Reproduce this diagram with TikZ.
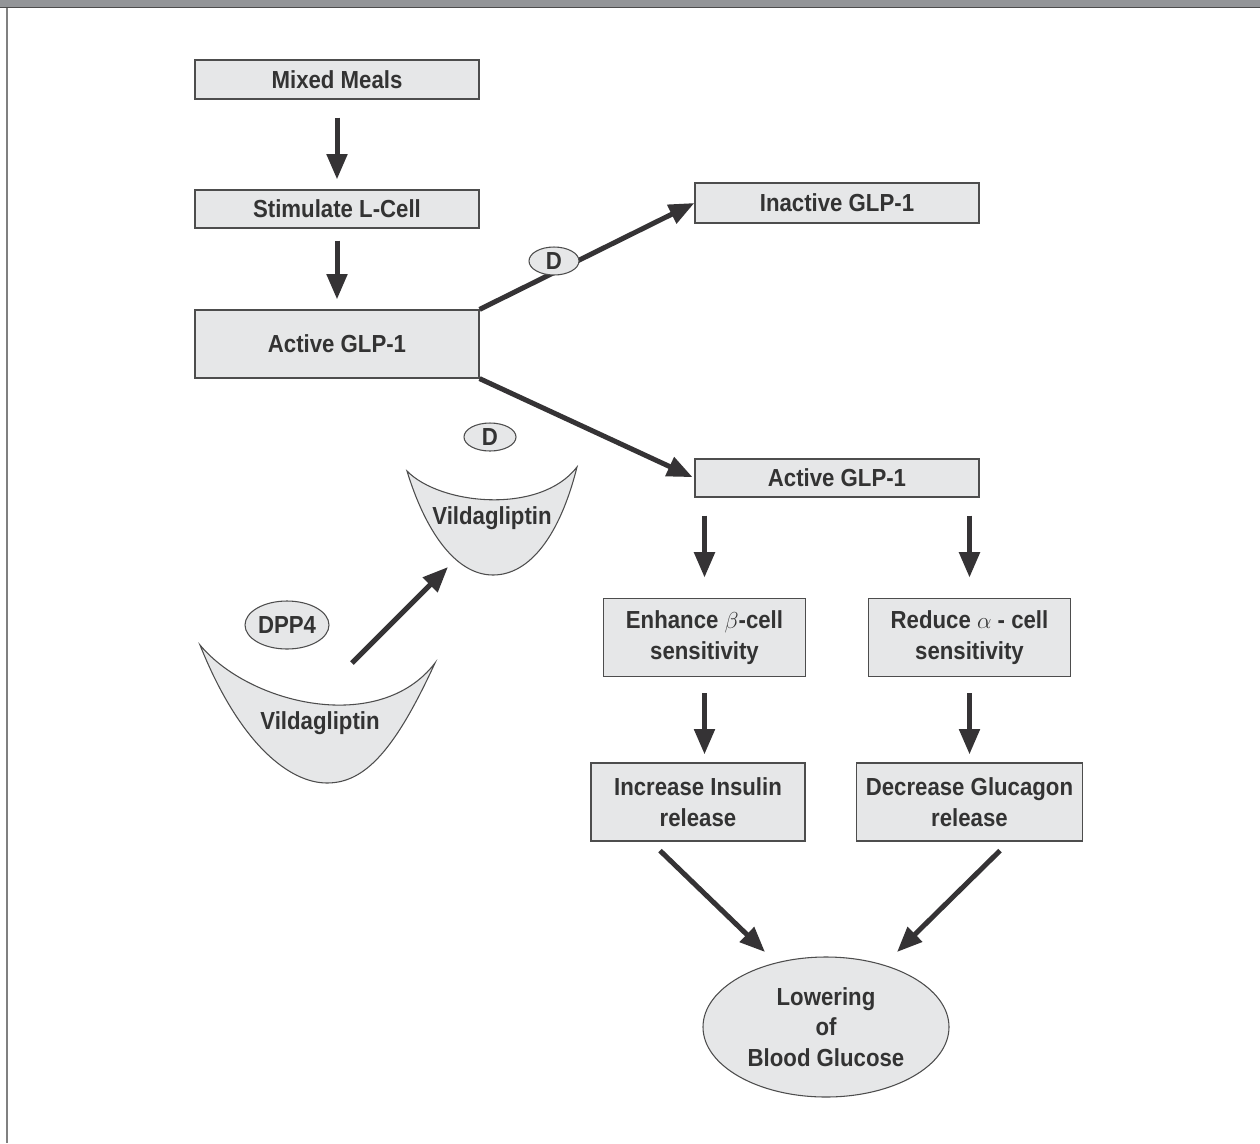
\documentclass[tikz,border=0pt]{standalone}
\usepackage{fontspec}
\setmainfont{Liberation Sans}[FakeStretch=0.9]
\usetikzlibrary{arrows.meta,shapes.geometric,calc}
\definecolor{boxfill}{HTML}{E6E7E8}
\definecolor{edgec}{HTML}{4D4D4D}
\definecolor{txt}{HTML}{333333}
\definecolor{arrc}{HTML}{353335}
\definecolor{band}{HTML}{939598}
\begin{document}
\begin{tikzpicture}[x=0.75pt,y=-0.75pt,
  lab/.style={text=txt, font=\bfseries\fontsize{18.5}{23}\selectfont, align=center, inner sep=0pt},
  box/.style={lab, draw=edgec, line width=0.9pt, fill=boxfill},
  oval/.style={lab, ellipse, draw=edgec, line width=0.8pt, fill=boxfill},
  arr/.style={draw=arrc, line width=3.75pt, -{Triangle[length=19pt,width=15pt]}},
  cup/.style={draw=edgec, line width=0.8pt, fill=boxfill}]
\useasboundingbox (0,0) rectangle (1260,1143);
\fill[white] (0,0) rectangle (1260,1143);
\fill[band] (0,0) rectangle (1260,7);
\draw[edgec, line width=1pt] (0,7.5) -- (1260,7.5);
\draw[gray, line width=1.5pt] (7,8) -- (7,1143);

% boxes
\node[box, minimum width=213pt, minimum height=29.25pt] (mm) at (337,79.5) {Mixed Meals};
\node[box, minimum width=213pt, minimum height=28.5pt] (st) at (337,209) {Stimulate L-Cell};
\node[box, minimum width=213pt, minimum height=51pt] (a1) at (337,344) {Active GLP-1};
\node[box, minimum width=213pt, minimum height=30pt] (ina) at (837,203) {Inactive GLP-1};
\node[box, minimum width=213pt, minimum height=28.5pt] (a2) at (837,478) {Active GLP-1};
\node[box, minimum width=152pt, minimum height=59pt] (en) at (704.5,637.5) {Enhance $\beta$-cell\\sensitivity};
\node[box, minimum width=152pt, minimum height=59pt] (re) at (969.5,637.5) {Reduce $\alpha$ - cell\\sensitivity};
\node[box, minimum width=160.5pt, minimum height=58.5pt] (inc) at (698,802) {Increase Insulin\\release};
\node[box, minimum width=170pt, minimum height=58.5pt] (dec) at (969.5,802) {Decrease Glucagon\\release};
\node[oval, minimum width=184.5pt, minimum height=105pt] (low) at (826,1027) {Lowering\\of\\Blood Glucose};

% arrows
\draw[arr, shorten <=13.5pt, shorten >=7.5pt] (mm.south) -- (st.north);
\draw[arr, shorten <=9pt, shorten >=7.5pt] (st.south) -- (a1.north);
\draw[arr] (a1.north east) -- (ina.west);
\draw[arr, shorten >=1.5pt] (a1.south east) -- (a2.west);
\draw[arr, shorten <=13.5pt, shorten >=15pt] (a2.south -| en.north) -- (en.north);
\draw[arr, shorten <=13.5pt, shorten >=15pt] (a2.south -| re.north) -- (re.north);
\draw[arr, shorten <=12pt, shorten >=6pt] (en.south) -- (en.south |- inc.north);
\draw[arr, shorten <=12pt, shorten >=6pt] (re.south) -- (re.south |- dec.north);
\draw[arr] ([shift={(-38,9)}]inc.south) -- ($(low.center)+(-61,-75)$);
\draw[arr] ([shift={(30.5,9)}]dec.south) -- ($(low.center)+(71,-75)$);

% D on the inactivation path
\node[oval, minimum width=37.5pt, minimum height=21pt] (d1) at (554,261) {D};

% Vildagliptin cups
\draw[cup] (200,645) .. controls (250,705) and (380,735) .. (435,663)
  .. controls (395,750) and (365,783) .. (327,783)
  .. controls (290,783) and (240,745) .. cycle;
\node[lab] (v1) at (320,723) {Vildagliptin};
\draw[cup] (407,471) .. controls (440,505) and (540,515) .. (577,467)
  .. controls (560,535) and (530,575) .. (493,575)
  .. controls (455,575) and (425,530) .. cycle;
\node[lab] (v2) at (492,518) {Vildagliptin};
\node[oval, minimum width=39pt, minimum height=21pt] (d2) at (490,437) {D};
\node[oval, minimum width=63pt, minimum height=36pt] (dpp) at (287,625) {DPP4};
\coordinate (c1) at (352,663);
\coordinate (c2) at (448,567);
\draw[arr] (c1) -- (c2);
\end{tikzpicture}
\end{document}
